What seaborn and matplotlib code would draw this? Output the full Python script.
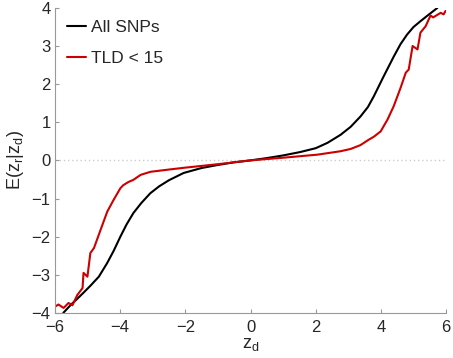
import numpy as np
import pandas as pd
import matplotlib
matplotlib.use("Agg")
import matplotlib.pyplot as plt
import seaborn as sns

# values
all_x = [-5.74, -5.5, -5.3, -5.12, -4.9, -4.65, -4.4, -4.2, -3.99, -3.8, -3.59, -3.35,
         -3.07, -2.8, -2.5, -2.05, -1.5, -1.0, -0.5, 0.0, 0.5, 1.0, 1.53, 2.0, 2.36, 2.76,
         3.07, 3.37, 3.6, 3.78, 4.08, 4.39, 4.6, 4.8, 5.0, 5.21, 5.4, 5.52, 5.73]
all_y = [-4.0, -3.78, -3.62, -3.47, -3.28, -3.05, -2.7, -2.38, -2.0, -1.68, -1.38, -1.12,
         -0.86, -0.68, -0.52, -0.33, -0.2, -0.12, -0.05, 0.0, 0.06, 0.13, 0.22, 0.32, 0.46,
         0.67, 0.88, 1.15, 1.4, 1.68, 2.2, 2.72, 3.05, 3.3, 3.5, 3.65, 3.78, 3.86, 4.0]

tld_x = [-5.98, -5.89, -5.73, -5.58, -5.46, -5.31, -5.15, -5.12, -5.0, -4.91, -4.8, -4.6,
         -4.39, -4.2, -3.99, -3.9, -3.75, -3.59, -3.37, -3.07, -2.5, -2.0, -1.0, 0.0, 1.0,
         2.05, 2.76, 3.07, 3.37, 3.62, 3.78, 3.99, 4.2, 4.39, 4.6, 4.76, 4.85, 4.97, 5.12,
         5.21, 5.37, 5.52, 5.6, 5.83, 5.92, 5.98]
tld_y = [-3.83, -3.78, -3.87, -3.74, -3.8, -3.53, -3.35, -2.95, -3.05, -2.43, -2.3, -1.83,
         -1.34, -1.04, -0.73, -0.65, -0.57, -0.51, -0.38, -0.3, -0.24, -0.19, -0.1, 0.0,
         0.07, 0.15, 0.24, 0.3, 0.4, 0.54, 0.62, 0.76, 1.07, 1.42, 1.9, 2.3, 2.38, 3.0,
         2.91, 3.35, 3.52, 3.8, 3.75, 3.87, 3.83, 3.92]

labels = ["All SNPs", "TLD < 15"]
colors = ["black", "#cc0000"]
x_ticks = [-6, -4, -2, 0, 2, 4, 6]
y_ticks = [-4, -3, -2, -1, 0, 1, 2, 3, 4]

sns.set_style("ticks")
plt.rcParams['font.family'] = ['Liberation Sans', 'DejaVu Sans']
plt.rcParams['mathtext.fontset'] = 'custom'
plt.rcParams['mathtext.rm'] = 'Liberation Sans'

df = pd.concat([
    pd.DataFrame({"zd": all_x, "E": all_y, "group": labels[0]}),
    pd.DataFrame({"zd": tld_x, "E": tld_y, "group": labels[1]}),
])

fig = plt.figure(figsize=(4.53, 3.58), dpi=100)
ax = fig.add_axes([0.121, 0.126, 0.864, 0.852])

ax.axhline(0, color="#cccccc", lw=1, ls=(0, (1, 2)), zorder=0)
sns.lineplot(data=df, x="zd", y="E", hue="group", palette=colors, sort=False,
             estimator=None, lw=1.5, ax=ax)

ax.set_xlim(-6, 6)
ax.set_ylim(-4, 4)
ax.set_xticks(x_ticks)
ax.set_yticks(y_ticks)
ax.set_xticklabels([str(t).replace("-", "\u2212") for t in x_ticks])
ax.set_yticklabels([str(t).replace("-", "\u2212") for t in y_ticks])
ax.tick_params(direction="in", length=3, color="#999999", labelsize=12)
ax.tick_params(axis="x", pad=5)
ax.tick_params(axis="y", pad=3)
for s in ["top", "right"]:
    ax.spines[s].set_visible(False)
for s in ["left", "bottom"]:
    ax.spines[s].set_color("#999999")
    ax.spines[s].set_linewidth(0.8)

ax.set_xlabel(r"z$_\mathregular{d}$", fontsize=13, labelpad=1)
ax.set_ylabel(r"E(z$_\mathregular{r}$|z$_\mathregular{d}$)", fontsize=13, labelpad=4)

ax.legend(title=None, loc="upper left", frameon=False, fontsize=12.5, handlelength=1.1,
          handletextpad=0.3, labelspacing=0.9, borderaxespad=0.3,
          bbox_to_anchor=(0.0, 1.0))

fig.savefig("out.png", dpi=100)
